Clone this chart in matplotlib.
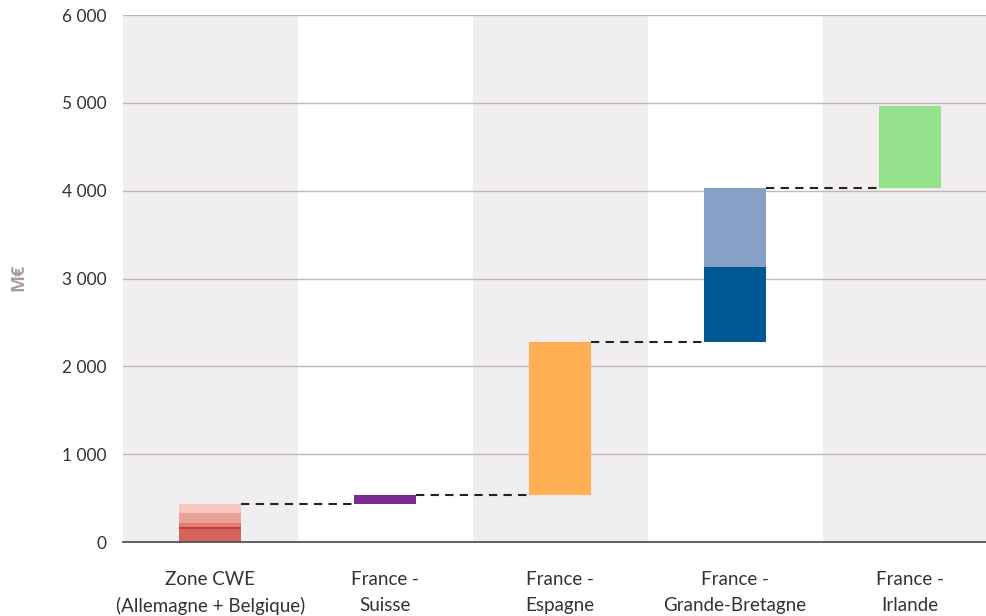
import matplotlib
matplotlib.use("Agg")
import matplotlib.pyplot as plt
import numpy as np

plt.rcParams['font.family'] = ['Lato', 'DejaVu Sans']

# Données (M€)
categories = ["Zone CWE\n(Allemagne + Belgique)", "France -\nSuisse", "France -\nEspagne",
              "France -\nGrande-Bretagne", "France -\nIrlande"]
segments = [
    [148, 23, 45, 114, 103],
    [102],
    [1740],
    [855, 900],
    [930],
]
couleurs = [
    ["#d4645c", "#c13c3c", "#e07c72", "#eba296", "#f5c7be"],
    ["#7b2d8e"],
    ["#ffae52"],
    ["#005893", "#87a0c6"],
    ["#94e28b"],
]
ticks_y = [0, 1000, 2000, 3000, 4000, 5000, 6000]

fig = plt.figure(figsize=(9.87, 6.16), dpi=100)
ax = fig.add_axes([0.1246, 0.1201, 0.8754, 0.8555])

largeur = 0.355
x = np.arange(len(categories))

# Bandes grises alternées
for i in x:
    if i % 2 == 0:
        ax.axvspan(i - 0.5, i + 0.5, color="#f1eeef", zorder=0, lw=0)

# Grille
for t in ticks_y[1:]:
    ax.axhline(t, color="#c4b5bb", lw=1, zorder=1)

# Barres en cascade
cumul = 0
niveaux = []
for i, (segs, cols) in enumerate(zip(segments, couleurs)):
    bas = cumul
    for v, c in zip(segs, cols):
        ax.bar(i, v, width=largeur, bottom=bas, color=c, zorder=3, lw=0)
        bas += v
    cumul = bas
    niveaux.append(cumul)

# Lignes de liaison
for i in range(len(categories) - 1):
    ax.plot([i + largeur / 2, i + 1 - largeur / 2], [niveaux[i], niveaux[i]],
            color="#222222", lw=1.5, ls=(0, (4, 3)), zorder=4)

ax.set_xlim(-0.5, 4.44)
ax.set_ylim(0, 6000)
ax.set_yticks(ticks_y)
ax.set_yticklabels([f"{t:,}".replace(",", " ") for t in ticks_y])
ax.set_xticks(x)
ax.set_xticklabels(categories, linespacing=1.6)
ax.tick_params(axis="both", length=0, colors="#333333")
ax.tick_params(axis="y", pad=12, labelsize=12.5)
ax.tick_params(axis="x", pad=21, labelsize=13.5)

for s in ["left", "right", "top"]:
    ax.spines[s].set_visible(False)
ax.spines["bottom"].set_color("#555555")
ax.spines["bottom"].set_linewidth(1.3)
ax.spines["bottom"].set_zorder(5)

fig.text(0.019, 0.55, "M€", rotation=90, fontsize=13, fontweight="bold",
         family=["Open Sans", "DejaVu Sans"], color="#a99a9d", ha="center", va="center")

fig.savefig("out.png", dpi=100, facecolor="white")
